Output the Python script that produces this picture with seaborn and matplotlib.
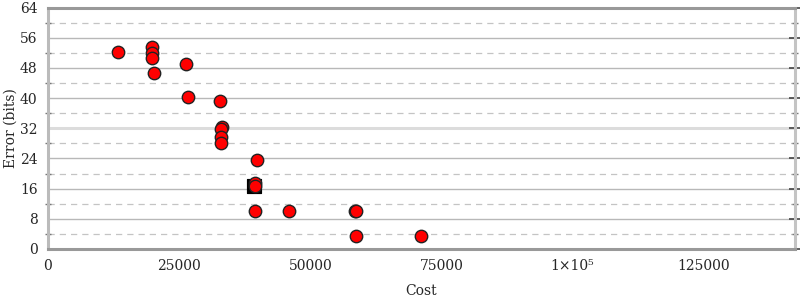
import matplotlib
matplotlib.use("Agg")
import matplotlib.pyplot as plt
import seaborn as sns
import pandas as pd
from matplotlib.ticker import MultipleLocator

# Data
cost = [13400, 19900, 19900, 19900, 20150, 26400, 26600, 32700, 33250, 33000,
        33000, 33000, 39750, 39550, 39450, 39550, 45850, 58450, 58700, 58750, 71200]
error = [52.3, 53.4, 52.0, 50.7, 46.7, 49.1, 40.4, 39.3, 32.3, 31.8,
         29.6, 28.2, 23.7, 17.4, 16.6, 10.2, 10.2, 10.2, 10.2, 3.4, 3.45]
best_cost = [39200]
best_error = [16.8]

x_ticks = [0, 25000, 50000, 75000, 100000, 125000]
x_ticklabels = ["0", "25000", "50000", "75000", "1×10⁵", "125000"]
y_ticks = [0, 8, 16, 24, 32, 40, 48, 56, 64]

sns.set_style("white")
plt.rcParams["font.family"] = ["DejaVu Serif"]

fig = plt.figure(figsize=(8, 3), dpi=100)
ax = fig.add_axes([48/800, 1 - 249/300, (795-48)/800, (249-7.5)/300])

# gridlines
for y in [8, 16, 24, 40, 48, 56]:
    ax.axhline(y, color="#b8b8b8", lw=1.0, zorder=0)
ax.axhline(32, color="#dcdcdc", lw=2.2, zorder=0)
for y in [4, 12, 20, 28, 36, 44, 52, 60]:
    ax.axhline(y, color="#c4c4c4", lw=0.9, ls=(0, (5, 4)), zorder=0)

df_best = pd.DataFrame({"Cost": best_cost, "Error": best_error})
df = pd.DataFrame({"Cost": cost, "Error": error})
sns.scatterplot(data=df_best, x="Cost", y="Error", marker="s", s=110,
                color="black", edgecolor="black", ax=ax, zorder=3)
sns.scatterplot(data=df, x="Cost", y="Error", marker="o", s=80,
                color="#ff0000", edgecolor="#222222", linewidth=1.0, ax=ax, zorder=4)

ax.set_xlim(0, 142400)
ax.set_ylim(0, 64)
ax.set_xticks(x_ticks)
ax.set_xticklabels(x_ticklabels)
ax.set_yticks(y_ticks)
ax.yaxis.set_minor_locator(MultipleLocator(4))

ax.tick_params(axis="x", direction="in", length=6, width=1, color="#333333",
               labelsize=10, pad=7, top=False)
ax.tick_params(axis="y", which="major", direction="inout", length=9, width=1.2,
               color="#444444", labelsize=10, pad=3, right=True)
ax.tick_params(axis="y", which="minor", direction="inout", length=5, width=1,
               color="#777777", left=True, right=True)

for side, col, lw in [("left", "#bbbbbb", 2.2), ("bottom", "#999999", 2.2),
                      ("top", "#999999", 2.2), ("right", "#c4c4c4", 2.2)]:
    ax.spines[side].set_visible(True)
    ax.spines[side].set_color(col)
    ax.spines[side].set_linewidth(lw)

ax.set_xlabel("Cost", fontsize=10, labelpad=8)
ax.set_ylabel("Error (bits)", fontsize=10)
ax.yaxis.set_label_coords(-0.041, 0.5)

fig.savefig("out.png", dpi=100)
